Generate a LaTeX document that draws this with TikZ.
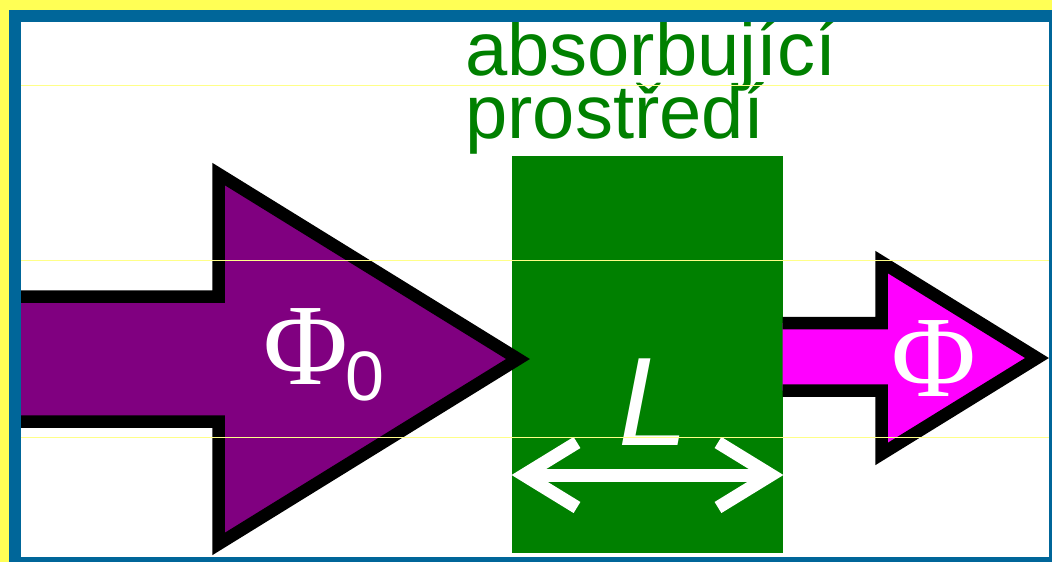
\documentclass[tikz,border=0pt]{standalone}
\usepackage{fontspec}
\setmainfont{Liberation Sans}
\newfontfamily\greekserif{Liberation Serif}
\usepackage{tikz}
\usetikzlibrary{positioning}
\definecolor{frameblue}{HTML}{006699}
\definecolor{frameyellow}{HTML}{FFFF55}
\definecolor{guideyellow}{HTML}{FFFF88}
\definecolor{mediumgreen}{HTML}{008000}
\definecolor{fluxpurple}{HTML}{800080}
\definecolor{fluxmagenta}{HTML}{FF00FF}
\tikzset{
  fluxarrow/.style={draw=black, line width=12.5pt, line join=miter, miter limit=10},
  lengthbar/.style={white, line width=13pt, line cap=butt, line join=miter, miter limit=10},
  guide/.style={guideyellow, line width=0.8pt},
  fluxlabel/.style={white, inner sep=0pt, font=\greekserif\fontsize{116}{116}\selectfont},
  mediumlabel/.style={mediumgreen, inner sep=0pt, anchor=base west, font=\fontsize{76}{63}\selectfont}
}

\begin{document}
\begin{tikzpicture}[x=1pt,y=-1pt]
  \useasboundingbox (0,0) rectangle (1052,562);
  \fill[frameyellow] (0,0) rectangle (1052,562);
  \fill[white] (21,22) rectangle (1049,557);
  % absorbing medium
  \fill[mediumgreen] (511.5,155.5) rectangle (782.5,553);
  % incoming and outgoing flux
  \filldraw[fluxarrow, fill=fluxpurple] (12,296.5) -- (218.5,296.5) -- (218.5,174) -- (518,359)
    -- (218.5,544) -- (218.5,421.5) -- (12,421.5);
  \filldraw[fluxarrow, fill=fluxmagenta] (782.5,323) -- (881.5,323) -- (881.5,262) -- (1037,358)
    -- (881.5,454) -- (881.5,390.5) -- (782.5,390.5);
  \node[fluxlabel, anchor=base west] (phizero) at (263.5,384)
    {Φ\kern-3pt\raisebox{-16pt}{\rmfamily\fontsize{70}{70}\selectfont 0}};
  \node[fluxlabel] (phi) at (934,358.5) {Φ};
  % thickness L
  \node[white, inner sep=0pt, anchor=base, font=\itshape\fontsize{126}{126}\selectfont] (length) at (654,445) {L};
  \coordinate (lenleft) at (524,475);
  \coordinate (lenright) at (771,475);
  \draw[lengthbar] (lenleft) -- (lenright);
  \draw[lengthbar] ([shift={(53,-32.5)}]lenleft) -- (lenleft) -- ([shift={(53,32.5)}]lenleft);
  \draw[lengthbar] ([shift={(-53,-32.5)}]lenright) -- (lenright) -- ([shift={(-53,32.5)}]lenright);
  \node[mediumlabel] (absorb) at (465,75) {absorbující};
  \node[mediumlabel] (medium) at ([yshift=-63pt]absorb.base west) {prostředí};
  \foreach \gy in {85,260,437}
    \draw[guide] (21,\gy) -- (1049,\gy);
  \draw[frameblue, line width=12pt] (15,16) rectangle (1055,563);
\end{tikzpicture}
\end{document}
